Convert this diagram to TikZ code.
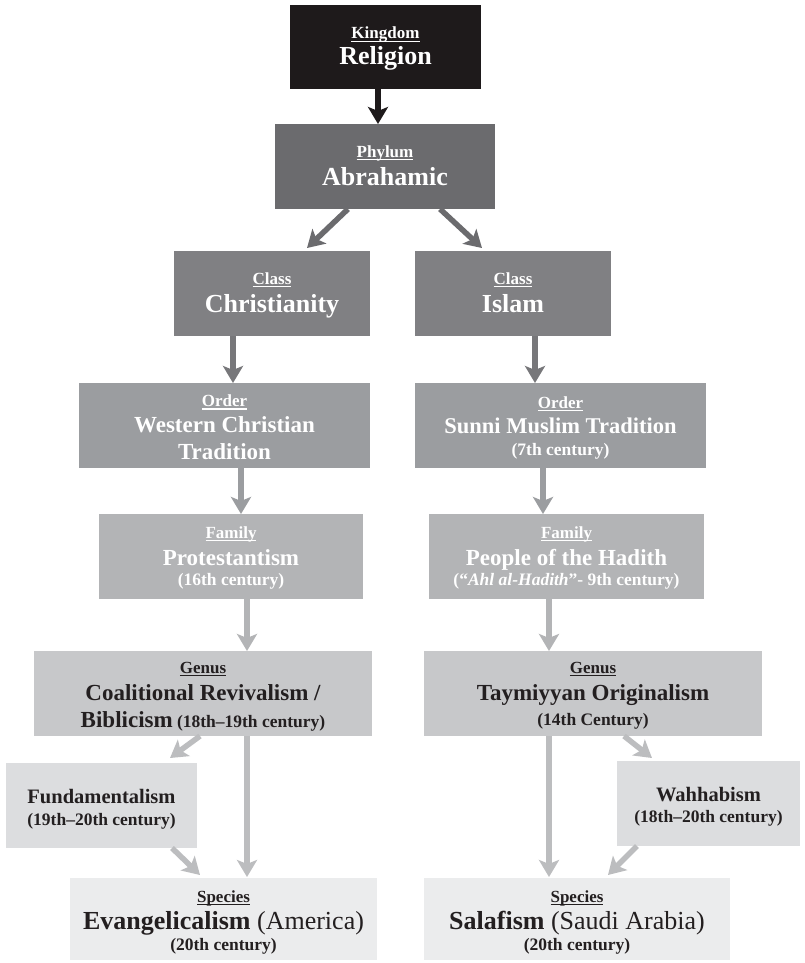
\documentclass[tikz,border=0pt]{standalone}
\usepackage{fontspec}
\setmainfont{Liberation Serif}
\usetikzlibrary{arrows.meta}
\definecolor{ck}{HTML}{1E1A1B}
\definecolor{cp}{HTML}{6B6B6E}
\definecolor{cc}{HTML}{808083}
\definecolor{cca}{HTML}{77777A}
\definecolor{co}{HTML}{9B9DA0}
\definecolor{cf}{HTML}{B3B4B6}
\definecolor{cg}{HTML}{C7C8CA}
\definecolor{cga}{HTML}{BCBDBF}
\definecolor{cb}{HTML}{DCDDDF}
\definecolor{cs}{HTML}{EBECED}
\definecolor{ctxt}{HTML}{231F20}
\newcommand\rkfs[1]{\fontsize{#1}{0}\selectfont}
\newcommand\rklabel[1]{{\fontsize{17}{0}\selectfont\setbox0\hbox{#1}\rlap{\rule[-3.2pt]{\wd0}{1.3pt}}\box0}}
\newcommand\rktop[1]{\rule{0pt}{#1pt}}
\newcommand\rkbot{\rule[-7pt]{0pt}{7pt}}
\tikzset{
  box/.style={anchor=north west, inner sep=0pt, outer sep=0pt, align=center,
    font=\fontsize{17}{0}\selectfont\bfseries,
    execute at begin node={\lineskiplimit=-200pt\lineskip=0pt\baselineskip=0pt}},
  lightbox/.style={box, text=white},
  darkbox/.style={box, text=ctxt},
  arr/.style={line width=5.5pt, -{Stealth[length=17pt,width=20pt,inset=4pt]}},
}
\begin{document}
\begin{tikzpicture}[x=1pt,y=-1pt]
\fill[white] (0,0) rectangle (804,963);
\useasboundingbox (0,0) rectangle (804,963);

\node[lightbox, fill=ck, minimum width=191pt, minimum height=84pt] (k) at (290,5)
  {\rktop{17}\rklabel{Kingdom}\\[26pt]{\rkfs{26}Religion}\rkbot};
\node[lightbox, fill=cp, minimum width=220pt, minimum height=85pt] (p) at (275,124)
  {\rktop{16}\rklabel{Phylum}\\[28pt]{\rkfs{26}Abrahamic}\rkbot};
\node[lightbox, fill=cc, minimum width=196pt, minimum height=85pt] (c1) at (174,251)
  {\rktop{16}\rklabel{Class}\\[28pt]{\rkfs{26}Christianity}\rkbot};
\node[lightbox, fill=cc, minimum width=196pt, minimum height=85pt] (c2) at (415,251)
  {\rktop{16}\rklabel{Class}\\[28pt]{\rkfs{26}Islam}\rkbot};
\node[lightbox, fill=co, minimum width=291pt, minimum height=85pt] (o1) at (79,383)
  {\rktop{22}\rklabel{Order}\\[26pt]{\rkfs{23}Western Christian}\\[27pt]{\rkfs{23}Tradition}\rkbot};
\node[lightbox, fill=co, minimum width=291pt, minimum height=85pt] (o2) at (415,383)
  {\rktop{19}\rklabel{Order}\\[25pt]{\rkfs{22.5}Sunni Muslim Tradition}\\[22pt]{\rkfs{17.5}(7th century)}\rkbot};
\node[lightbox, fill=cf, minimum width=264pt, minimum height=85pt] (f1) at (99,514)
  {\rktop{17}\rklabel{Family}\\[27pt]{\rkfs{23}Protestantism}\\[20pt]{\rkfs{17.5}(16th century)}\rkbot};
\node[lightbox, fill=cf, minimum width=275pt, minimum height=85pt] (f2) at (429,514)
  {\rktop{17}\rklabel{Family}\\[27pt]{\rkfs{23}People of the Hadith}\\[20pt]{\rkfs{17.5}(“\textit{Ahl al-Hadith}”- 9th century)}\rkbot};
\node[darkbox, fill=cg, minimum width=338pt, minimum height=85pt] (g1) at (34,651)
  {\rktop{20}\rklabel{Genus}\\[27pt]{\rkfs{23}Coalitional Revivalism /}\\[27pt]{\rkfs{23}Biblicism} {\rkfs{17.5}(18th\textendash19th century)}\rkbot};
\node[darkbox, fill=cg, minimum width=338pt, minimum height=85pt] (g2) at (424,651)
  {\rktop{18}\rklabel{Genus}\\[27pt]{\rkfs{23}Taymiyyan Originalism}\\[25pt]{\rkfs{17.5}(14th Century)}\rkbot};
\node[darkbox, fill=cb, minimum width=191pt, minimum height=85pt] (b1) at (6,763)
  {\rktop{24}{\rkfs{20.5}Fundamentalism}\\[22pt]{\rkfs{17.5}(19th\textendash20th century)}\rkbot};
\node[darkbox, fill=cb, minimum width=183pt, minimum height=85pt] (b2) at (617,761)
  {\rktop{23}{\rkfs{20.5}Wahhabism}\\[21pt]{\rkfs{17.5}(18th\textendash20th century)}\rkbot};
\node[darkbox, fill=cs, minimum width=307pt, minimum height=82pt] (s1) at (70,878)
  {\rktop{21}\rklabel{Species}\\[27pt]{\rkfs{26}Evangelicalism {\mdseries(America)}}\\[21pt]{\rkfs{17.5}(20th century)}\rkbot};
\node[darkbox, fill=cs, minimum width=306pt, minimum height=82pt] (s2) at (424,878)
  {\rktop{21}\rklabel{Species}\\[27pt]{\rkfs{26}Salafism {\mdseries(Saudi Arabia)}}\\[21pt]{\rkfs{17.5}(20th century)}\rkbot};

\draw[arr, ck] ([xshift=-7.5pt]k.south) -- ([xshift=-7pt]p.north);
\draw[arr, cp] ([xshift=-37pt]p.south) -- ([xshift=35pt,yshift=3pt]c1.north);
\draw[arr, cp] ([xshift=55pt]p.south) -- ([xshift=-31pt,yshift=3pt]c2.north);
\draw[arr, cca] ([xshift=-39pt]c1.south) -- ([xshift=8.5pt]o1.north);
\draw[arr, cca] ([xshift=22pt]c2.south) -- ([xshift=-25.5pt]o2.north);
\draw[arr, co] ([xshift=16.5pt]o1.south) -- ([xshift=10pt]f1.north);
\draw[arr, co] ([xshift=-17.5pt]o2.south) -- ([xshift=-23.5pt]f2.north);
\draw[arr, cf] ([xshift=16pt]f1.south) -- ([xshift=44pt]g1.north);
\draw[arr, cf] ([xshift=-17.5pt]f2.south) -- ([xshift=-44pt]g2.north);
\draw[arr, cga] ([xshift=-3pt]g1.south) -- ([xshift=68.5pt,yshift=5pt]b1.north);
\draw[arr, cga] ([xshift=44pt]g1.south) -- ([xshift=23.5pt,yshift=1pt]s1.north);
\draw[arr, cga] ([xshift=70.5pt]b1.south) -- ([xshift=-23.5pt,yshift=3pt]s1.north);
\draw[arr, cga] ([xshift=31pt]g2.south) -- ([xshift=-56.5pt,yshift=3pt]b2.north);
\draw[arr, cga] ([xshift=-44pt]g2.south) -- ([xshift=-28pt,yshift=1pt]s2.north);
\draw[arr, cga] ([xshift=-71.5pt]b2.south) -- ([xshift=31pt,yshift=3pt]s2.north);
\end{tikzpicture}
\end{document}
